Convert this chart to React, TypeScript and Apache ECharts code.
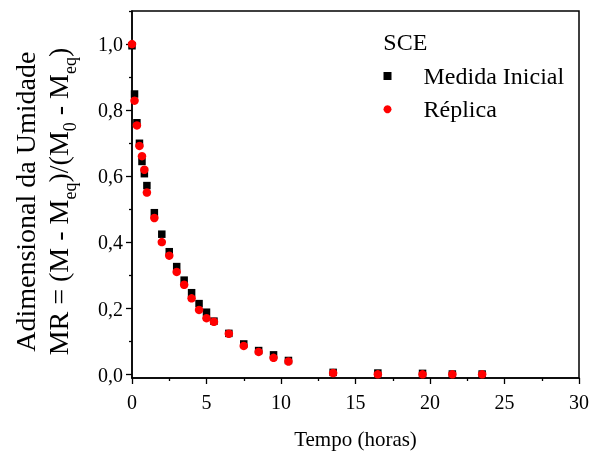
import React, { useEffect, useRef } from "react";
import * as echarts from "echarts";

const timeHours = [0, 0.17, 0.33, 0.5, 0.67, 0.83, 1, 1.5, 2, 2.5, 3, 3.5, 4, 4.5, 5, 5.5, 6.5, 7.5, 8.5, 9.5, 10.5, 13.5, 16.5, 19.5, 21.5, 23.5];
const medidaInicial = [0.995, 0.849, 0.762, 0.7, 0.645, 0.608, 0.572, 0.49, 0.425, 0.372, 0.327, 0.286, 0.248, 0.215, 0.189, 0.162, 0.125, 0.093, 0.073, 0.06, 0.043, 0.007, 0.005, 0.004, 0.002, 0.002];
const replica = [1.0, 0.829, 0.754, 0.692, 0.661, 0.62, 0.551, 0.474, 0.401, 0.36, 0.311, 0.272, 0.231, 0.196, 0.171, 0.16, 0.124, 0.087, 0.069, 0.051, 0.04, 0.005, 0.001, 0.001, 0.001, 0.001];
const yTickValues = [0, 0.2, 0.4, 0.6, 0.8, 1.0];
const seriesNames = ["Medida Inicial", "Réplica"];

const FONT = "Liberation Serif";

export default function App() {
  const ref = useRef<HTMLDivElement>(null);
  useEffect(() => {
    if (!ref.current) return;
    const chart = echarts.init(ref.current, null, { renderer: "svg" });
    chart.setOption({
      animation: false,
      grid: { left: 132, right: 11, top: 11, bottom: 73, show: true, borderColor: "#000", borderWidth: 1.5, backgroundColor: "transparent" },
      legend: {
        data: seriesNames,
        orient: "vertical",
        left: 383.5,
        top: 64,
        padding: 0,
        itemWidth: 8,
        itemHeight: 8,
        itemGap: 9.3,
        textStyle: { fontSize: 24, fontFamily: FONT, color: "#000", lineHeight: 24, padding: [0, 0, 0, 27] },
      },
      xAxis: {
        type: "value",
        min: 0,
        max: 30,
        interval: 5,
        name: "Tempo (horas)",
        nameLocation: "middle",
        nameGap: 50,
        nameTextStyle: { fontSize: 21, fontFamily: FONT, color: "#000" },
        axisLine: { show: true, onZero: false, lineStyle: { color: "#000", width: 1.5 } },
        axisTick: { show: true, length: 6, lineStyle: { color: "#000", width: 1.3 } },
        minorTick: { show: true, splitNumber: 2, length: 3, lineStyle: { color: "#000", width: 1.3 } },
        axisLabel: { fontSize: 20, fontFamily: FONT, color: "#000", margin: 14 },
        splitLine: { show: false },
        minorSplitLine: { show: false },
      },
      yAxis: {
        type: "value",
        min: -0.01,
        max: 1.1001,
        splitNumber: 5,
        axisLine: { show: true, onZero: false, lineStyle: { color: "#000", width: 1.5 } },
        axisTick: { show: true, length: 6, customValues: yTickValues, lineStyle: { color: "#000", width: 1.3 } },
        minorTick: { show: true, splitNumber: 2, length: 3, lineStyle: { color: "#000", width: 1.3 } },
        axisLabel: {
          fontSize: 20,
          fontFamily: FONT,
          color: "#000",
          margin: 9,
          customValues: yTickValues,
          formatter: (v: number) => v.toFixed(1).replace(".", ","),
        },
        splitLine: { show: false },
        minorSplitLine: { show: false },
      },
      graphic: [
        {
          type: "text",
          x: 25.5,
          y: 201.7,
          rotation: Math.PI / 2,
          style: {
            text: "Adimensional da Umidade",
            fontSize: 28,
            fontFamily: FONT,
            fill: "#000",
            align: "center",
            verticalAlign: "middle",
          },
        },
        {
          type: "text",
          x: 58.5,
          y: 201.5,
          rotation: Math.PI / 2,
          style: {
            text: "{n|MR = (M - M}{s|eq}{n|)/(M}{s|0}{n| - M}{s|eq}{n|)}",
            fill: "#000",
            align: "center",
            verticalAlign: "middle",
            rich: {
              n: { fontSize: 28, fontFamily: FONT, lineHeight: 28, fill: "#000" },
              s: { fontSize: 18, fontFamily: FONT, lineHeight: 28, padding: [22, 0, 0, 0], fill: "#000" },
            },
          },
        },
        {
          type: "text",
          x: 383.3,
          y: 42,
          style: {
            text: "SCE",
            fontSize: 24,
            fontFamily: FONT,
            fill: "#000",
            align: "left",
            verticalAlign: "middle",
          },
        },
      ],
      series: [
        {
          type: "scatter",
          name: seriesNames[0],
          symbol: "rect",
          symbolSize: 7.5,
          itemStyle: { color: "#000", opacity: 1 },
          data: timeHours.map((t, i) => [t, medidaInicial[i]]),
        },
        {
          type: "scatter",
          name: seriesNames[1],
          symbol: "circle",
          symbolSize: 8.5,
          itemStyle: { color: "#ff0000", opacity: 1 },
          data: timeHours.map((t, i) => [t, replica[i]]),
        },
      ],
    });
    return () => chart.dispose();
  }, []);
  return <div ref={ref} style={{ position: "fixed", left: 0, top: 0, width: 592, height: 454 }} />;
}
